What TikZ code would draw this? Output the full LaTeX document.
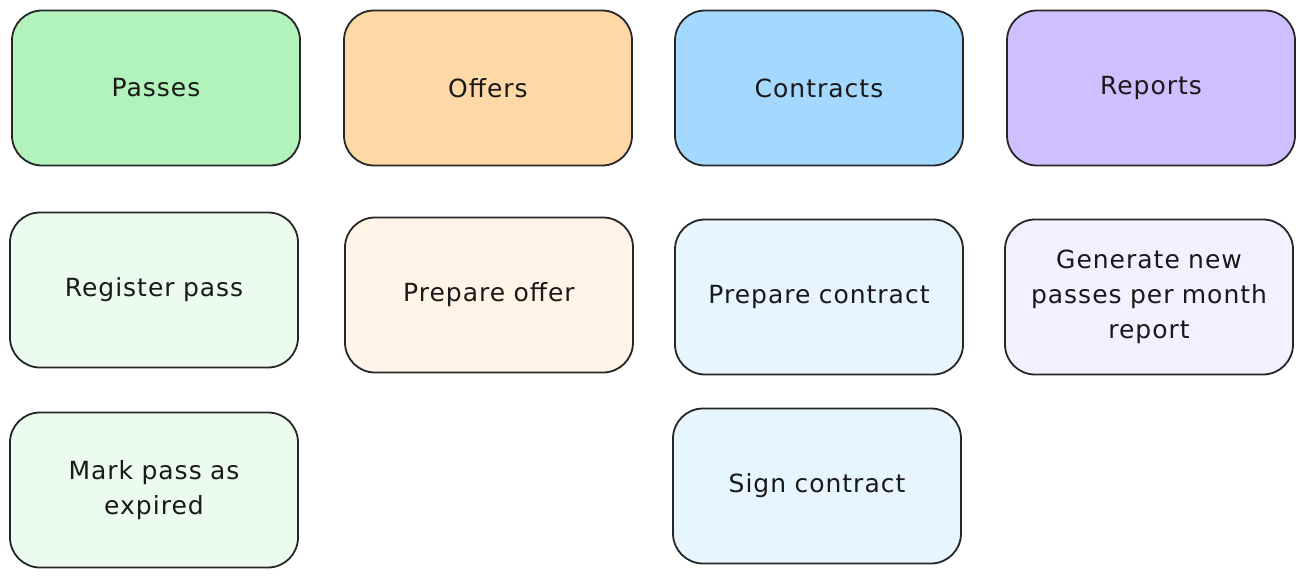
\documentclass[tikz,border=0pt]{standalone}
\usepackage{fontspec}
\setmainfont{DejaVu Sans}[LetterSpace=4]
\usepackage{tikz}
\definecolor{grn}{HTML}{B2F2BB}
\definecolor{org}{HTML}{FFD8A8}
\definecolor{blu}{HTML}{A5D8FF}
\definecolor{prp}{HTML}{D0BFFF}
\definecolor{lgrn}{HTML}{EBFBEE}
\definecolor{lorg}{HTML}{FFF4E6}
\definecolor{lblu}{HTML}{E7F5FF}
\definecolor{lprp}{HTML}{F3F0FF}
\tikzset{card/.style={draw=black!85, line width=1.8pt, rounded corners=30pt,
  minimum width=288pt, minimum height=155pt, align=center, text width=280pt,
  font=\fontsize{25}{35}\selectfont, text=black!90}}

\begin{document}
\begin{tikzpicture}[x=1pt,y=-1pt]
				\useasboundingbox (0,0) rectangle (1305,578);
				% domains
				\node [card, fill=grn] (passes)    at (156,88)  {Passes};
				\node [card, fill=org] (offers)    at (488,88)  {Offers};
				\node [card, fill=blu] (contracts) at (819,88)  {Contracts};
				\node [card, fill=prp] (reports)   at (1151,88) {Reports};
				% use cases
				\node [card, fill=lgrn] (register) at (154,290)  {Register pass};
				\node [card, fill=lorg] (prepoffer) at (489,295) {Prepare offer};
				\node [card, fill=lblu] (prepcontract) at (819,297) {Prepare contract};
				\node [card, fill=lprp] (generate) at (1149,297) {Generate new\\passes per month\\report};
				\node [card, fill=lgrn] (expire)   at (154,490)  {Mark pass as\\expired};
				\node [card, fill=lblu] (sign)     at (817,486)  {Sign contract};
			\end{tikzpicture}
\end{document}
